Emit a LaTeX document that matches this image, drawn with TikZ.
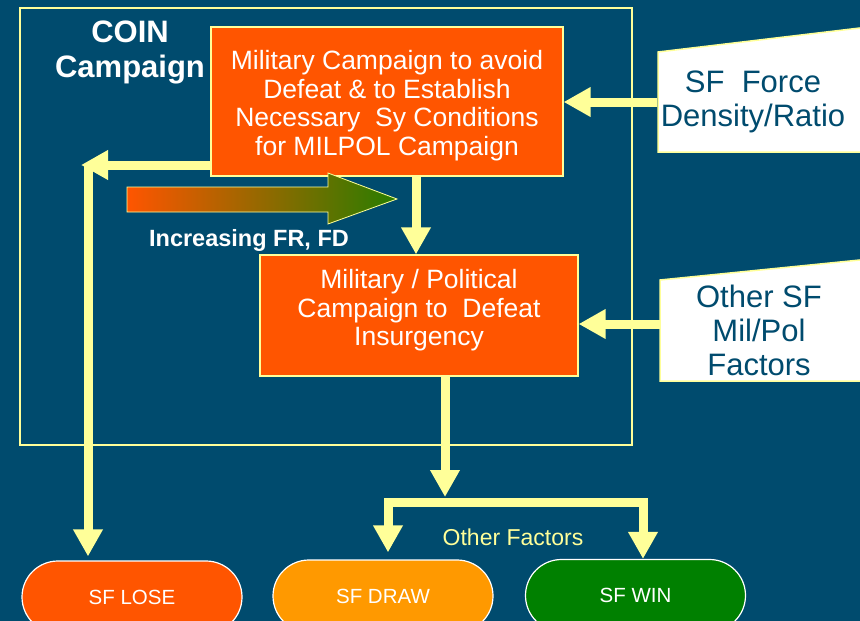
\documentclass[tikz,border=0pt]{standalone}
\usepackage{fontspec}
\setmainfont{Liberation Sans}
\usetikzlibrary{arrows.meta}
\definecolor{bgblue}{RGB}{0,75,110}
\definecolor{boxorange}{RGB}{255,85,0}
\definecolor{draworange}{RGB}{255,153,0}
\definecolor{wingreen}{RGB}{0,128,0}
\definecolor{paleyellow}{RGB}{255,255,153}
\definecolor{arrowgreen}{RGB}{40,125,0}

\begin{document}
\begin{tikzpicture}[x=1pt, y=-1pt]

    % 定义样式
    \tikzstyle{campaign} = [rectangle, draw=paleyellow, line width=1.2pt, fill=boxorange]
    \tikzstyle{boxtext} = [align=center, text=white, font=\fontsize{26.5}{28.5}\selectfont]
    \tikzstyle{factor} = [rectangle, align=center, text=bgblue, minimum height=100pt, font=\fontsize{31}{34}\selectfont]
    \tikzstyle{outcome} = [rectangle, rounded corners=36pt, minimum width=220pt, minimum height=72pt, draw=white, line width=1.2pt, text=white, font=\fontsize{20.5}{24}\selectfont]
    \tikzstyle{arrow} = [draw=paleyellow, line width=9pt, -{Triangle[width=28pt,length=27pt]}]

    % 背景和外框
    \clip (0,0) rectangle (860,621);
    \fill[bgblue] (0,0) rectangle (860,621);
    \draw[paleyellow, line width=1.5pt] (20,8) rectangle (632,445);
    \filldraw[fill=white, draw=paleyellow, line width=1.5pt] (658,52) -- (880,25.6) -- (880,152) -- (658,152) -- cycle;
    \filldraw[fill=white, draw=paleyellow, line width=1.5pt] (660,280) -- (880,258) -- (880,381) -- (660,381) -- cycle;

    % 创建节点
    \node (coin) [text=white, align=center, font=\bfseries\fontsize{31}{35}\selectfont] at (130,52) {COIN\\Campaign};
    \node (mil) [campaign, minimum width=352pt, minimum height=149pt,
        label={[boxtext, yshift=-4pt]center:{Military Campaign to avoid\\Defeat \& to Establish\\Necessary\ \ Sy Conditions\\for MILPOL Campaign}}] at (387,101.5) {};
    \node (milpol) [campaign, minimum width=318pt, minimum height=121pt,
        label={[boxtext, yshift=5pt]center:{Military / Political\\Campaign to\ \ Defeat\\Insurgency}}] at (419,315.5) {};
    \node (force) [factor, minimum width=190pt] at (753,102) {SF\ \ Force\\Density/Ratio};
    \node (other) [factor, minimum width=198pt] at (759,330) {Other SF\\Mil/Pol\\Factors};
    \node (incr) [text=white, font=\bfseries\fontsize{23.5}{27}\selectfont] at (249,240) {Increasing FR, FD};
    \node (otherf) [text=paleyellow, font=\fontsize{23}{27}\selectfont] at (513,537) {Other Factors};
    \node (sflose) [outcome, fill=boxorange] at (132,597) {SF LOSE};
    \node (sfdraw) [outcome, fill=draworange] at (383,596) {SF DRAW};
    \node (sfwin) [outcome, fill=wingreen] at (635.5,595.5) {SF WIN};

    % 渐变箭头
    \shadedraw[left color=boxorange, right color=arrowgreen, draw=paleyellow, line width=0.8pt] (127,187) -- (328,187) -- (328,173) -- (397,199) -- (328,224) -- (328,212) -- (127,212) -- cycle;

    % 连接节点
    \coordinate (lc) at (88,165);
    \coordinate (split) at (445,502);
    \coordinate (ofrom) at ([yshift=6pt]other.west);
    \draw [arrow] (force.west) -- (mil.east |- force.west);
    \draw [arrow] (ofrom) -- (ofrom -| milpol.east);
    \draw [arrow] ([xshift=29pt]mil.south) -- ([xshift=-3pt]milpol.north);
    \draw [arrow, shorten >=4pt] (lc) -- (lc |- sflose.north);
    \draw [arrow, shorten >=-7pt] (mil.south west |- lc) -- (lc);
    \draw [arrow, shorten >=5pt] ([xshift=26pt]milpol.south) -- (split);
    \draw [arrow, shorten >=7pt] (split) -| ([xshift=5pt]sfdraw.north);
    \draw [arrow] (split) -| ([xshift=7.5pt]sfwin.north);

\end{tikzpicture}
\end{document}
